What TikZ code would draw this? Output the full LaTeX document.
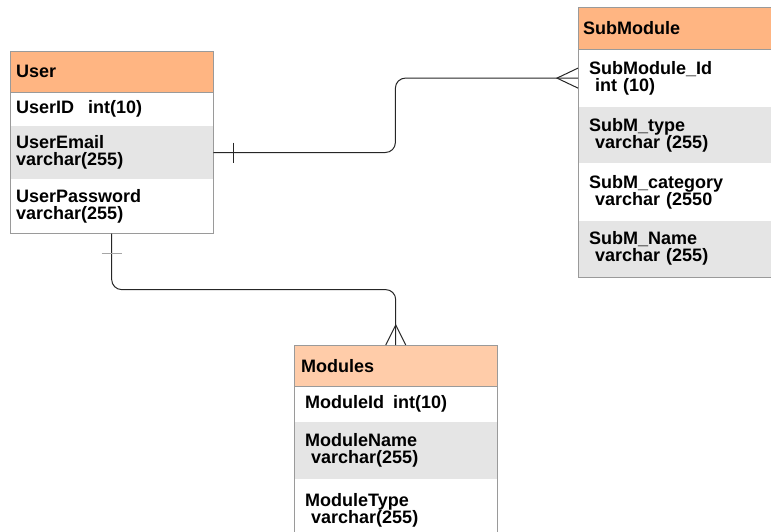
\documentclass[tikz,border=0pt]{standalone}
\usepackage{fontspec}
\setmainfont{Liberation Sans}
\definecolor{hdrorange}{HTML}{FFB582}
\definecolor{hdrlight}{HTML}{FFCCA9}
\definecolor{rowgray}{HTML}{E5E5E5}
\definecolor{tblline}{HTML}{9A9A9A}
\begin{document}
\begin{tikzpicture}[x=1pt,y=-1pt,
	cell/.style={anchor=north west,inner ysep=0pt,align=left,font=\fontsize{18}{17}\selectfont\bfseries},
	usr/.style={cell,text width=191pt,inner xsep=6pt},
	subh/.style={cell,text width=187pt,inner xsep=5pt},
	subr/.style={cell,text width=175pt,inner xsep=11pt},
	modh/.style={cell,text width=189pt,inner xsep=7pt},
	modr/.style={cell,text width=181pt,inner xsep=11pt},
	link/.style={line width=1pt,black!85}]
		\useasboundingbox (0,0) rectangle (771,531);
		\node [usr,fill=hdrorange,minimum height=41pt] (user) at (10,51) {User};
		\node [usr,minimum height=33pt] (userid) at (user.south west) {UserID\hspace{14pt}int(10)};
		\node [usr,fill=rowgray,minimum height=53pt] (useremail) at (userid.south west) {UserEmail\\varchar(255)};
		\node [usr,minimum height=54pt] (userpass) at (useremail.south west) {UserPassword\\varchar(255)};
		\draw [tblline] (user.north west) rectangle (userpass.south east);
		\draw [tblline] (user.south west) -- (user.south east);
		\node [subh,fill=hdrorange,minimum height=42pt] (sub) at (578,7) {SubModule};
		\node [subr,minimum height=57pt] (subid) at (sub.south west) {SubModule\_Id\\\ int (10)};
		\node [subr,fill=rowgray,minimum height=56pt] (subtype) at (subid.south west) {SubM\_type\\\ varchar (255)};
		\node [subr,minimum height=57pt] (subcat) at (subtype.south west) {SubM\_category\\\ varchar (2550};
		\node [subr,fill=rowgray,minimum height=56pt] (subname) at (subcat.south west) {SubM\_Name\\\ varchar (255)};
		\draw [tblline] (sub.north west) rectangle (subname.south east);
		\draw [tblline] (sub.south west) -- (sub.south east);
		\node [modh,fill=hdrlight,minimum height=41pt] (mod) at (294,345) {Modules};
		\node [modr,minimum height=35pt] (modid) at (mod.south west) {ModuleId\hspace{9pt}int(10)};
		\node [modr,fill=rowgray,minimum height=57pt] (modname) at (modid.south west) {ModuleName\\\ varchar(255)};
		\node [modr,minimum height=62pt] (modtype) at (modname.south west) {ModuleType\\\ varchar(255)};
		\draw [tblline] (mod.north west) rectangle (modtype.south east);
		\draw [tblline] (mod.south west) -- (mod.south east);
		\draw [link,rounded corners=10pt] (useremail.east) -- ++(182,0) |- (subid.west);
		\draw [link,rounded corners=10pt] (userpass.south) -- ++(0,56) -| (mod.north);
		\draw [link] ([xshift=20pt,yshift=10pt]useremail.east) -- ([xshift=20pt,yshift=-10pt]useremail.east);
		\draw [line width=1pt,gray!70] ([xshift=-10pt,yshift=-20pt]userpass.south) -- ([xshift=10pt,yshift=-20pt]userpass.south);
		\draw [link] ([yshift=10pt]subid.west) -- ([xshift=-21pt]subid.west) -- ([yshift=-10pt]subid.west);
		\draw [link] ([xshift=-10pt]mod.north) -- ([yshift=20pt]mod.north) -- ([xshift=10pt]mod.north);
	\end{tikzpicture}
\end{document}
